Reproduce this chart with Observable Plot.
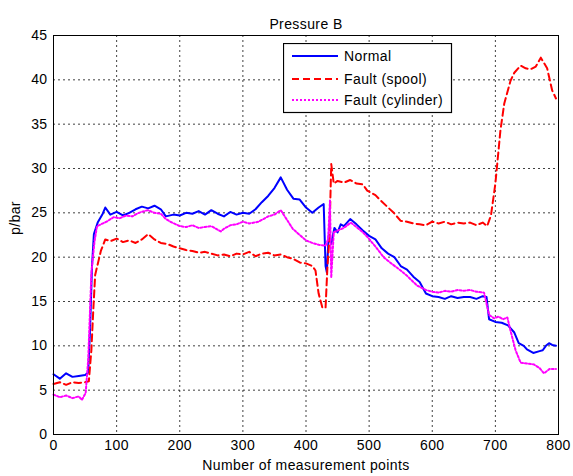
<!DOCTYPE html>
<html><head><meta charset="utf-8">
<script src="https://cdn.jsdelivr.net/npm/d3@7"></script>
<script src="https://cdn.jsdelivr.net/npm/@observablehq/plot@0.6"></script>
<style>
body{margin:0;background:#fff;font-family:"Liberation Sans",Arial,sans-serif}
#wrap{position:relative;width:573px;height:476px}
#legend{position:absolute;left:283px;top:43px}
svg text{letter-spacing:0.4px}
</style></head>
<body><div id="wrap"><div id="chart"></div><div id="legend"></div></div>
<script>
const title = "Pressure B";
const xLabel = "Number of measurement points";
const yLabel = "p/bar";
const xTicks = [0,100,200,300,400,500,600,700,800];
const yTicks = [0,5,10,15,20,25,30,35,40,45];
const seriesNames = ["Normal","Fault (spool)","Fault (cylinder)"];

const normalX = [0,10,20,30,40,50,55,58,61,64,70,78,82,90,100,110,120,130,140,150,160,170,178,190,200,210,220,230,240,250,260,270,280,290,300,310,320,330,340,350,360,370,380,390,400,410,420,428,431,433,436,440,445,450,455,460,470,480,490,500,510,520,530,540,550,560,570,580,590,600,610,620,630,640,650,660,670,680,686,690,700,710,720,730,737,745,750,760,770,775,780,785,790,796];
const normalY = [6.8,6.3,6.9,6.5,6.6,6.7,7.0,12,19,22.6,23.9,24.9,25.6,24.8,25.1,24.7,25.0,25.4,25.7,25.5,25.8,25.4,24.6,24.8,24.7,25.0,24.9,25.2,24.8,25.3,24.9,24.6,25.1,24.8,25.0,24.9,25.4,26.2,26.9,27.8,29.0,27.6,26.6,26.5,25.6,25.0,25.6,26.0,19,18.3,22.5,21.5,23.3,22.8,23.7,23.5,24.3,23.7,23.0,22.4,22.0,21.0,20.4,20.0,19.0,18.6,17.8,17.2,15.9,15.6,15.5,15.3,15.6,15.4,15.5,15.5,15.3,15.6,15.5,13.0,12.7,12.6,12.3,11.5,10.3,10.0,9.6,9.2,9.4,9.5,10.0,10.3,10.1,10.0];

const spoolX = [0,10,20,30,40,50,56,60,63,66,75,82,90,100,110,120,130,140,150,160,170,180,190,200,210,220,230,240,250,260,270,280,290,300,310,320,330,340,350,360,370,380,390,400,410,415,420,426,431,434,437,440,444,450,460,470,480,490,497,510,518,530,539,550,560,570,580,590,600,610,620,630,640,650,660,670,680,687,693,700,708,714,724,730,740,748,756,764,772,782,790,796];
const spoolY = [5.7,5.9,5.6,5.9,5.8,5.9,6.0,9.5,14,18,20.7,22.0,21.8,22.1,21.7,21.9,21.6,22.0,22.6,22.0,21.6,21.5,21.2,21.0,20.8,20.7,20.5,20.6,20.4,20.2,20.3,20.1,20.4,20.3,20.6,20.1,20.4,20.5,20.2,20.3,20.0,19.8,19.4,19.3,19.0,18.5,15.9,14.3,14.3,19,22,30.5,28.3,28.6,28.4,28.7,28.3,28.2,27.5,27.0,26.4,25.6,25.0,24.1,24.0,23.8,23.7,23.6,24.0,23.8,24.0,23.7,23.9,23.8,23.9,23.6,23.9,23.5,24.7,28.3,34.3,37.3,39.9,40.8,41.6,41.3,41.2,41.5,42.5,41.3,38.8,37.9];

const cylX = [0,10,20,30,40,45,51,55,60,65,69,84,95,105,115,125,135,149,160,170,178,185,200,210,220,230,240,250,260,265,270,280,290,300,310,325,340,350,360,370,379,390,400,410,420,431,435,438,440,444,450,460,471,480,490,497,510,523,535,550,560,570,576,590,600,610,620,630,640,650,660,670,682,690,698,705,712,719,724,732,740,750,761,770,777,786,796];
const cylY = [4.5,4.2,4.4,4.1,4.3,3.9,4.7,8.5,18.2,21.8,23.5,24.0,24.5,24.4,24.7,24.6,25.0,25.3,25.0,24.9,24.3,24.0,23.5,23.4,23.6,23.3,23.4,23.5,23.1,22.9,23.2,23.6,23.7,24.0,23.8,24.0,24.6,24.8,25.3,24.2,23.2,22.5,21.9,21.6,21.4,21.3,22.0,26.4,17.7,22.8,23.0,23.3,23.9,23.4,22.8,22.3,21.2,20.0,19.3,18.5,17.9,17.2,16.8,16.3,16.1,16.0,16.2,16.1,16.3,16.2,16.3,16.1,16.0,13.5,13.1,13.3,13.0,13.2,11.7,9.5,8.1,8.0,7.9,7.5,6.9,7.4,7.4];

const rows = (xs, ys) => xs.map((x, i) => ({x, y: ys[i]}));
const normal = rows(normalX, normalY);
const spool = rows(spoolX, spoolY);
const cyl = rows(cylX, cylY);

const colors = ["#0000ff", "#ff0000", "#ff00ff"];
const dashes = [null, "7,4", "2,2"];
const font = "Liberation Sans, Arial, sans-serif";
const fs = 14;

const chart = Plot.plot({
  width: 573, height: 476,
  marginLeft: 53, marginRight: 15, marginTop: 35, marginBottom: 42,
  style: {fontFamily: font, fontSize: fs + "px", color: "#000", background: "#fff"},
  x: {domain: [0, 800]},
  y: {domain: [0, 45]},
  marks: [
    Plot.ruleX(xTicks.slice(1, -1), {stroke: "#000", strokeOpacity: 0.75, strokeDasharray: "2,3"}),
    Plot.ruleY(yTicks.slice(1, -1), {stroke: "#000", strokeOpacity: 0.75, strokeDasharray: "2,3"}),
    Plot.axisX({ticks: xTicks, tickSize: 0, tickPadding: 6, label: null, fontSize: fs}),
    Plot.axisY({ticks: yTicks, tickSize: 0, tickPadding: 6, label: null, fontSize: fs}),
    Plot.line(normal, {x: "x", y: "y", stroke: colors[0], strokeWidth: 2}),
    Plot.line(spool, {x: "x", y: "y", stroke: colors[1], strokeWidth: 2, strokeDasharray: dashes[1]}),
    Plot.line(cyl, {x: "x", y: "y", stroke: colors[2], strokeWidth: 2, strokeDasharray: dashes[2]}),
    Plot.frame({stroke: "#000", strokeWidth: 1}),
    Plot.text([title], {frameAnchor: "top", dy: -16, fontSize: fs}),
    Plot.text([xLabel], {frameAnchor: "bottom", dy: 35, fontSize: fs}),
    Plot.text([yLabel], {frameAnchor: "left", dx: -38, rotate: -90, fontSize: fs})
  ]
});
document.getElementById("chart").appendChild(chart);

// legend
const lw = 169, lh = 70;
const lg = d3.select("#legend").append("svg").attr("width", lw + 1).attr("height", lh + 1);
lg.append("rect").attr("x", 0.5).attr("y", 0.5).attr("width", lw - 1).attr("height", lh - 1)
  .attr("fill", "#fff").attr("stroke", "#000").attr("stroke-width", 1.2);
const rowY = [13, 36, 57];
seriesNames.forEach((name, i) => {
  lg.append("line").attr("x1", 9).attr("x2", 55).attr("y1", rowY[i]).attr("y2", rowY[i])
    .attr("stroke", colors[i]).attr("stroke-width", 2).attr("stroke-dasharray", dashes[i]);
  lg.append("text").attr("x", 61).attr("y", rowY[i] + 5).text(name)
    .attr("font-family", font).attr("font-size", fs).attr("fill", "#000");
});
</script></body></html>
